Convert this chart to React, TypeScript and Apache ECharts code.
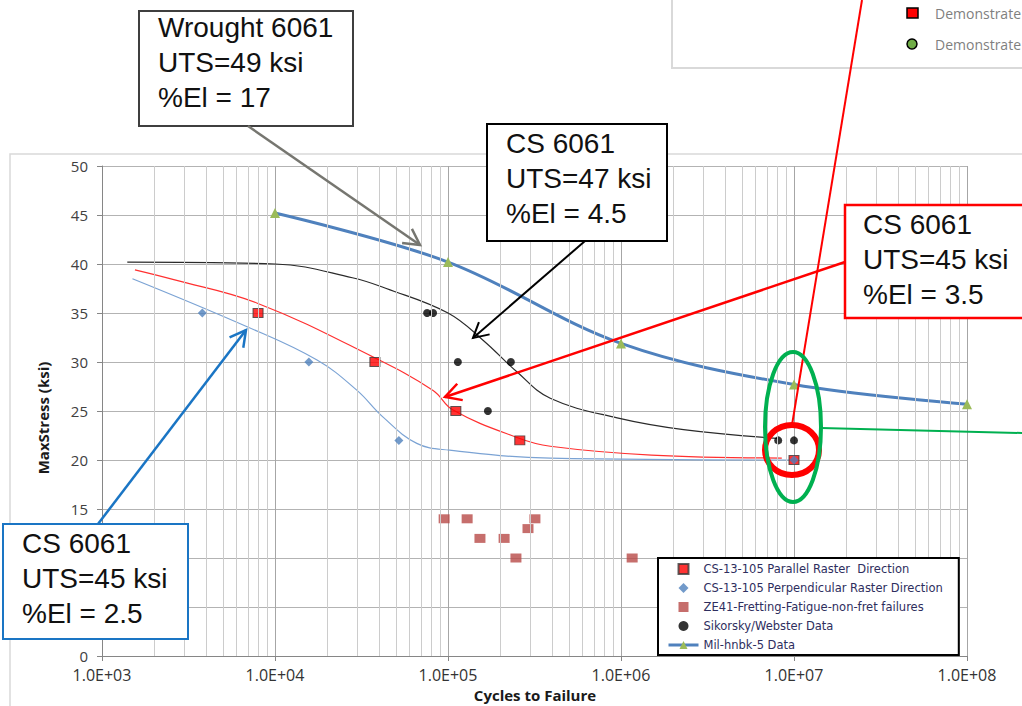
import React, { useEffect, useRef } from 'react';
import * as echarts from 'echarts';

// ---------- data (cycles, max stress ksi) ----------
const parallelRaster = [[7.98e3, 35], [3.78e4, 30], [1.11e5, 25], [2.6e5, 22], [1e7, 20]];
const perpendicularRaster = [[3.8e3, 35], [1.57e4, 30], [5.2e4, 22], [1e7, 20]];
const ze41 = [[9.5e4, 14], [1.29e5, 14], [1.53e5, 12], [2.11e5, 12], [2.47e5, 10], [2.9e5, 13], [3.18e5, 14], [1.16e6, 10]];
const sikorsky = [[7.57e4, 35], [8.2e4, 35], [1.14e5, 30], [2.31e5, 30], [1.7e5, 25], [8.1e6, 22], [1e7, 22]];
const milHdbk = [[1e4, 45.2], [1e5, 40.2], [1e6, 31.9], [1e7, 27.7], [1e8, 25.7]];

const fitSikorsky = [[1.4e3, 40.2], [1e4, 40.0], [2.8e4, 38.6], [4.4e4, 37.5], [1e5, 35.0], [1.6e5, 32.2], [2.5e5, 29.0], [3.9e5, 26.3], [9.5e5, 24.3], [2.3e6, 23.1], [8e6, 22.2]];
const fitParallel = [[1.55e3, 39.4], [2.6e3, 38.4], [7.9e3, 36.0], [3.7e4, 30.5], [8.2e4, 27.1], [1.07e5, 25.1], [2.5e5, 22.3], [3.9e5, 21.4], [1.5e6, 20.5], [8.5e6, 20.2]];
const fitPerpendicular = [[1.5e3, 38.5], [6.9e3, 33.6], [1.75e4, 30.2], [2.98e4, 27.1], [4.2e4, 24.4], [6.6e4, 21.7], [1.02e5, 21.0], [3.9e5, 20.2], [1e7, 20.0]];

const decades = [1e3, 1e4, 1e5, 1e6, 1e7];
const minorMultipliers = [2, 3, 4, 5, 6, 7, 8, 9];
const minorGrid: number[] = [];
decades.forEach((d) => minorMultipliers.forEach((m) => minorGrid.push(m * d)));

// y tick labels hidden behind the blue call-out box in the reference
const hiddenYLabels = [5, 10];

const legendNames = [
  'CS-13-105 Parallel Raster  Direction',
  'CS-13-105 Perpendicular Raster Direction',
  'ZE41-Fretting-Fatigue-non-fret failures',
  'Sikorsky/Webster Data',
  'Mil-hnbk-5 Data',
];

const boxTexts = [
  'Wrought 6061\nUTS=49 ksi\n%El = 17',
  'CS 6061\nUTS=47 ksi\n%El = 4.5',
  'CS 6061\nUTS=45 ksi\n%El = 3.5',
  'CS 6061\nUTS=45 ksi\n%El = 2.5',
];

const SQUARE_ICON = 'path://M0,0H10V10H0Z';
const DIAMOND_ICON = 'path://M5,0L10,5L5,10L0,5Z';

function arrow(x1: number, y1: number, x2: number, y2: number, color: string, width: number, head: number) {
  const a = Math.atan2(y2 - y1, x2 - x1);
  const s = 0.5;
  return [
    { type: 'line', shape: { x1, y1, x2, y2 }, style: { stroke: color, lineWidth: width }, z: 100 },
    {
      type: 'polyline',
      shape: {
        points: [
          [x2 - head * Math.cos(a - s), y2 - head * Math.sin(a - s)],
          [x2, y2],
          [x2 - head * Math.cos(a + s), y2 - head * Math.sin(a + s)],
        ],
      },
      style: { stroke: color, lineWidth: width, fill: null },
      z: 100,
    },
  ];
}

function box(x: number, y: number, w: number, h: number, stroke: string, lw: number, text: string, tx: number, ty: number) {
  return [
    { type: 'rect', shape: { x, y, width: w, height: h }, style: { fill: '#ffffff', stroke, lineWidth: lw }, z: 100 },
    {
      type: 'text',
      x: tx,
      y: ty,
      style: { text, fontSize: 28, fontFamily: '"Liberation Sans", Arial', fill: '#111111', lineHeight: 35 },
      z: 101,
    },
  ];
}

export default function App() {
  const ref = useRef<HTMLDivElement>(null);
  useEffect(() => {
    if (!ref.current) return;
    const chart = echarts.init(ref.current, null, { renderer: 'svg' });
    const fitLine = (data: number[][], color: string) => ({
      type: 'line',
      data,
      smooth: 0.4,
      symbol: 'none',
      silent: true,
      lineStyle: { color, width: 1.2 },
      z: 2,
    });
    const option: any = {
      animation: false,
      grid: { left: 102, right: 55, top: 166, bottom: 50 },
      xAxis: {
        type: 'log',
        logBase: 10,
        min: 1e3,
        max: 1e8,
        splitNumber: 5,
        axisLine: { show: true, lineStyle: { color: '#868686', width: 1 } },
        axisTick: { show: true, length: 5, lineStyle: { color: '#868686' } },
        axisLabel: {
          fontSize: 16,
          fontFamily: '"Open Sans", sans-serif',
          color: '#333333',
          margin: 11,
          formatter: (v: number) => {
            const e = Math.round(Math.log10(v));
            return '1.0E+' + String(e).padStart(2, '0');
          },
        },
        splitLine: { show: true, lineStyle: { color: '#a6a6a6', width: 1 } },
      },
      yAxis: {
        type: 'value',
        min: 0,
        max: 50,
        interval: 5,
        axisLine: { show: true, lineStyle: { color: '#868686', width: 1 } },
        axisTick: { show: true, length: 5, lineStyle: { color: '#868686' } },
        axisLabel: {
          fontSize: 15,
          fontFamily: '"Open Sans", sans-serif',
          color: '#404040',
          margin: 14,
          formatter: (v: number) => (hiddenYLabels.indexOf(v) >= 0 ? '' : String(v)),
        },
        splitLine: { show: true, lineStyle: { color: '#b3b3b3', width: 1 } },
      },
      legend: {
        data: [
          { name: legendNames[0], icon: SQUARE_ICON },
          { name: legendNames[1], icon: DIAMOND_ICON },
          { name: legendNames[2], icon: SQUARE_ICON },
          { name: legendNames[3] },
          { name: legendNames[4], lineStyle: { width: 3, color: '#4f81bd' } },
        ],
        orient: 'vertical',
        left: 658,
        top: 558,
        padding: [5, 16, 4, 9],
        itemGap: 7,
        itemWidth: 30,
        itemHeight: 10,
        symbolKeepAspect: true,
        backgroundColor: '#ffffff',
        borderColor: '#000000',
        borderWidth: 2,
        textStyle: { fontSize: 11.5, fontFamily: '"DejaVu Sans", sans-serif', color: '#2e2e5e', lineHeight: 10 },
        z: 20,
      },
      series: [
        {
          name: 'minorGrid',
          type: 'line',
          data: [],
          silent: true,
          z: 1,
          markLine: {
            silent: true,
            symbol: ['none', 'none'],
            label: { show: false },
            lineStyle: { color: '#cccccc', width: 1, type: 'solid' },
            data: minorGrid.map((v) => ({ xAxis: v })),
          },
        },
        fitLine(fitPerpendicular, '#7ba3d4'),
        fitLine(fitParallel, '#ff3030'),
        fitLine(fitSikorsky, '#2a2a2a'),
        {
          name: legendNames[4],
          type: 'line',
          data: milHdbk,
          smooth: 0.35,
          symbol: 'triangle',
          symbolSize: 10,
          lineStyle: { color: '#4f81bd', width: 3 },
          itemStyle: { color: '#9bbb59' },
          z: 3,
        },
        {
          name: legendNames[2],
          type: 'scatter',
          data: ze41,
          symbol: 'rect',
          symbolSize: [11, 9],
          itemStyle: { color: '#b84a47' },
          z: 4,
        },
        {
          name: legendNames[3],
          type: 'scatter',
          data: sikorsky,
          symbol: 'circle',
          symbolSize: 8,
          itemStyle: { color: '#000000' },
          z: 4,
        },
        {
          name: legendNames[0],
          type: 'scatter',
          data: parallelRaster,
          symbol: 'rect',
          symbolSize: [10, 9],
          itemStyle: { color: '#ff0000', borderColor: '#3a3a3a', borderWidth: 1 },
          z: 4,
        },
        {
          name: legendNames[1],
          type: 'scatter',
          data: perpendicularRaster,
          symbol: 'diamond',
          symbolSize: 9,
          itemStyle: { color: '#4f81bd' },
          z: 5,
        },
      ],
      graphic: [
        // outer chart frame
        { type: 'rect', shape: { x: 10, y: 154, width: 1100, height: 600 }, style: { fill: null, stroke: '#d9d9d9', lineWidth: 1.5 }, z: -1 },
        // top-right legend fragment
        { type: 'rect', shape: { x: 672, y: -5, width: 400, height: 73 }, style: { fill: '#ffffff', stroke: '#d9d9d9', lineWidth: 2 }, z: 50 },
        { type: 'rect', shape: { x: 907, y: 8, width: 11, height: 10 }, style: { fill: '#ff0000', stroke: '#000000', lineWidth: 1.5 }, z: 51 },
        { type: 'text', x: 935, y: 13, style: { text: 'Demonstrate', fontSize: 14, fontFamily: '"Open Sans", sans-serif', fill: '#7f7f7f', verticalAlign: 'middle' }, z: 51 },
        { type: 'circle', shape: { cx: 912, cy: 44, r: 5 }, style: { fill: '#70ad47', stroke: '#000000', lineWidth: 1.5 }, z: 51 },
        { type: 'text', x: 935, y: 44, style: { text: 'Demonstrate', fontSize: 14, fontFamily: '"Open Sans", sans-serif', fill: '#7f7f7f', verticalAlign: 'middle' }, z: 51 },
        // axis titles
        { type: 'text', x: 535, y: 695, style: { text: 'Cycles to Failure', fontSize: 15, fontWeight: 'bold', fontFamily: '"Open Sans", sans-serif', fill: '#1a1a1a', align: 'center', verticalAlign: 'middle' }, z: 5 },
        { type: 'text', x: 43, y: 418, rotation: Math.PI / 2, style: { text: 'MaxStress (ksi)', fontSize: 15, fontWeight: 'bold', fontFamily: '"Open Sans", sans-serif', fill: '#1a1a1a', align: 'center', verticalAlign: 'middle' }, z: 5 },
        // annotation boxes
        ...box(139, 11, 214, 115, '#3f3f3f', 2, boxTexts[0], 158, 10),
        ...box(487, 124, 180, 117, '#000000', 2, boxTexts[1], 506, 126),
        ...box(845, 205, 220, 113, '#ff0000', 2.5, boxTexts[2], 863, 207),
        ...box(3, 524, 185, 115, '#1a75c4', 2, boxTexts[3], 22, 526),
        // arrows
        ...arrow(248, 126, 420, 245, '#767670', 2.5, 18),
        ...arrow(585, 241, 473, 338, '#000000', 2, 17),
        ...arrow(845, 262, 445, 397, '#ff0000', 2.5, 18),
        ...arrow(98, 524, 246, 330, '#1a75c4', 2.5, 18),
        // callout lines and ellipses
        { type: 'line', shape: { x1: 862, y1: 0, x2: 792, y2: 425 }, style: { stroke: '#ff0000', lineWidth: 2 }, z: 102 },
        { type: 'ellipse', shape: { cx: 792, cy: 450, rx: 27, ry: 25 }, style: { fill: null, stroke: '#ff0000', lineWidth: 6 }, z: 102 },
        { type: 'ellipse', shape: { cx: 793, cy: 427, rx: 28, ry: 75 }, style: { fill: null, stroke: '#00b050', lineWidth: 4 }, z: 103 },
        { type: 'line', shape: { x1: 821, y1: 428, x2: 1022, y2: 433 }, style: { stroke: '#00b050', lineWidth: 2 }, z: 103 },
      ],
    };
    chart.setOption(option);
    return () => chart.dispose();
  }, []);
  return <div ref={ref} style={{ position: 'absolute', left: 0, top: 0, width: 1022, height: 706, background: '#ffffff' }} />;
}
